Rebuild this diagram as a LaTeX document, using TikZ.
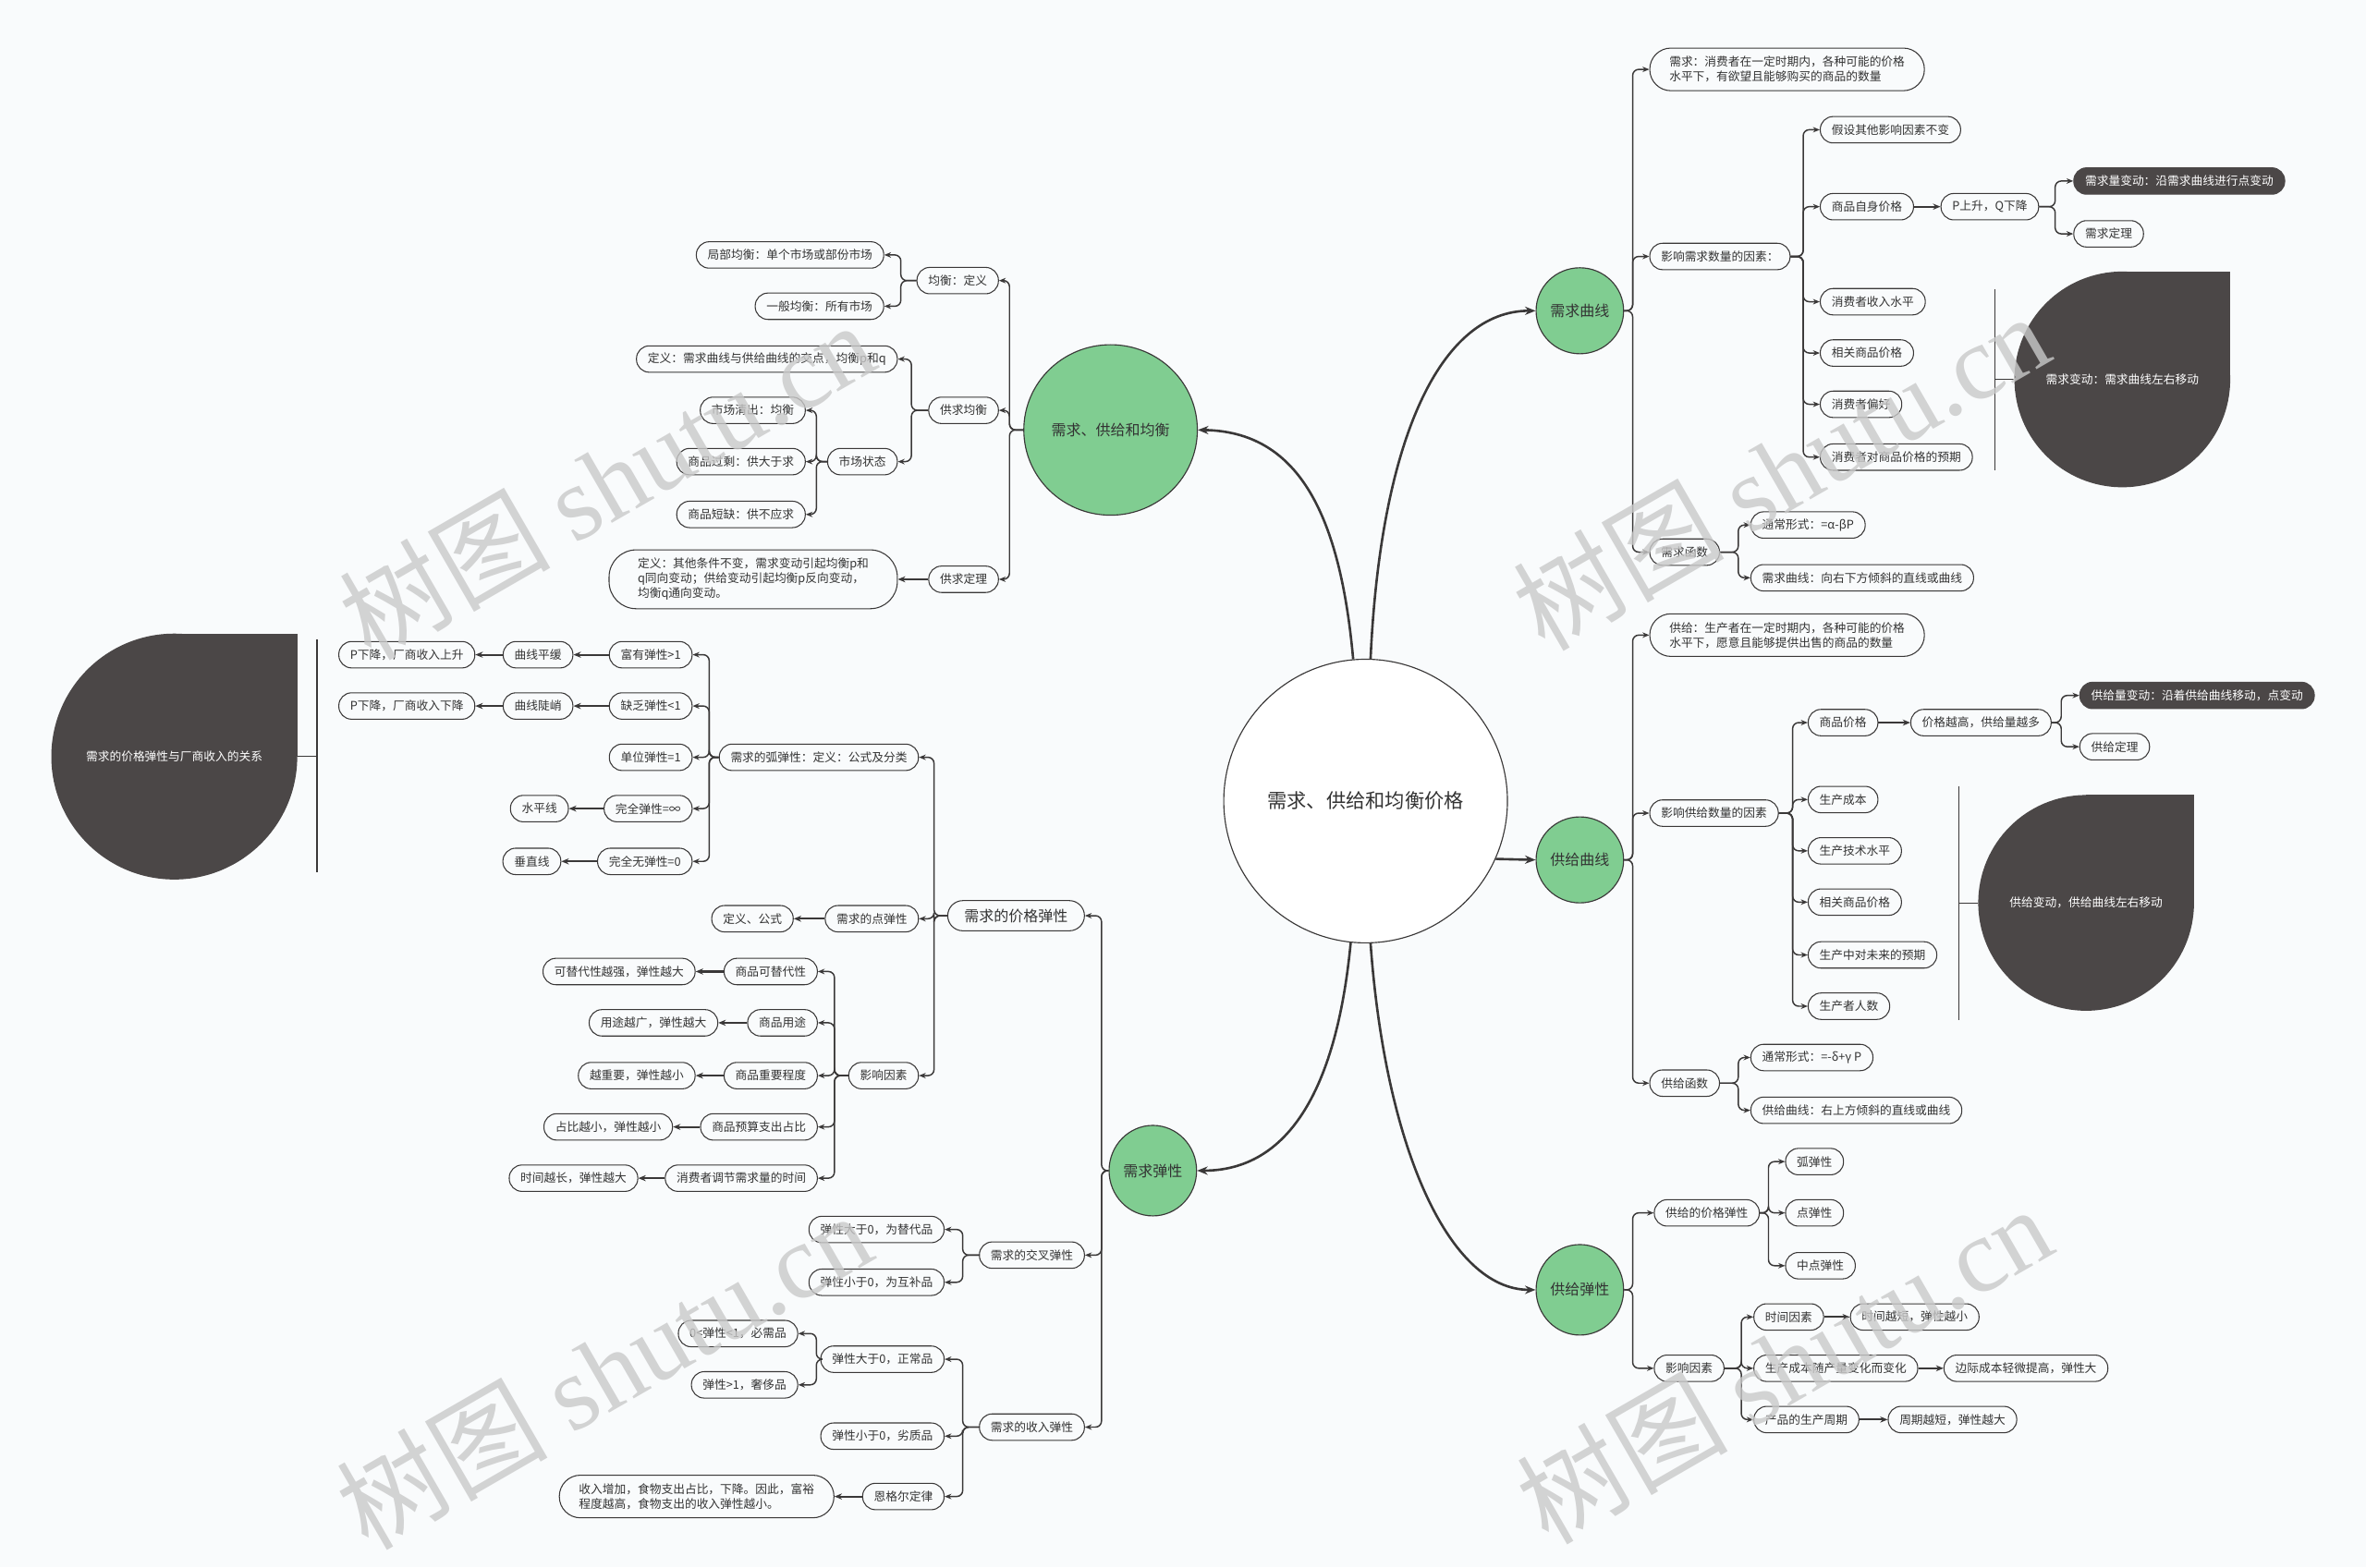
\documentclass[tikz,border=0pt]{standalone}
\usepackage{fontspec}
\setmainfont{Noto Sans CJK SC}
\newfontfamily\wmserif{Liberation Serif}
\usetikzlibrary{shapes.geometric,arrows.meta,calc}
\definecolor{bgc}{HTML}{F9FBFC}
\definecolor{linec}{HTML}{3A3838}
\definecolor{txt}{HTML}{333333}
\definecolor{greenc}{HTML}{80CD91}
\definecolor{darkc}{HTML}{4B4747}
\newcommand\fsA{\fontsize{7.8}{9.8}\selectfont}
\newcommand\fsB{\fontsize{9.8}{11}\selectfont}
\newcommand\fsC{\fontsize{13}{15}\selectfont}
\newcommand\conR[3][11]{\draw[conn] (#2.east) -| ($(#3.west)+(-#1,0)$) -- (#3.west);}
\newcommand\conL[3][11]{\draw[conn] (#2.west) -| ($(#3.east)+(#1,0)$) -- (#3.east);}
\begin{document}
\begin{tikzpicture}[x=1pt,y=-1pt,
 every node/.style={text=txt},
 box/.style={draw=linec,fill=bgc,line width=0.65pt,rounded corners=8.5pt,minimum height=17.5pt,inner xsep=7.5pt,inner ysep=0pt,font=\fsA},
 box2/.style={box,align=left,rounded corners=14pt,inner xsep=13pt,inner ysep=5.5pt},
 dbox/.style={box,fill=darkc,draw=darkc,text=white},
 bigbox/.style={box,font=\fsB,minimum height=20pt,rounded corners=10pt,inner xsep=11pt},
 topic/.style={ellipse,draw=linec,fill=greenc,line width=0.7pt,inner sep=0pt,font=\fsB},
 conn/.style={draw=linec,line width=0.9pt,rounded corners=4pt,-{Stealth[length=4.5pt,width=3.6pt]}},
 chain/.style={draw=linec,line width=1.3pt,-{Stealth[length=5pt,width=4pt]}},
 mainc/.style={draw=linec,line width=1.6pt,-{Stealth[length=7pt,width=5.5pt]}},
 sumline/.style={draw=linec,line width=0.8pt},
 tdtext/.style={circle,inner sep=0pt,text=white,font=\fsA},
 wm/.style={text=black!21,font=\fontsize{70}{70}\selectfont,opacity=0.8}
]
\fill[bgc] (0,0) rectangle (1568,1039);
\useasboundingbox (0,0) rectangle (1568,1039);

% ---------- centre and topics ----------
\node[circle,draw=linec,fill=white,line width=0.7pt,minimum size=188pt,inner sep=0pt,font=\fsC] (C) at (905,531) {需求、供给和均衡价格};
\node[topic,minimum width=58pt,minimum height=57pt] (D) at (1047,206) {需求曲线};
\node[topic,minimum width=58pt,minimum height=57pt] (SC) at (1047,570) {供给曲线};
\node[topic,minimum width=58pt,minimum height=60pt] (S) at (1047,855) {供给弹性};
\node[topic,minimum width=115pt,minimum height=113pt] (J) at (736,285) {需求、供给和均衡};
\node[topic,minimum width=58pt,minimum height=60pt] (K) at (764,776) {需求弹性};

\draw[mainc] (C.95.5) .. controls (888,340) and (860,286) .. (J.east);
\draw[mainc] (C.88) .. controls (915,290) and (955,206) .. (D.west);
\draw[mainc] (C.264.5) .. controls (886,720) and (855,776) .. (K.east);
\draw[mainc] (C.272) .. controls (918,760) and (960,855) .. (S.west);
\draw[mainc] (C.-24.6) -- (SC.west);

% ---------- demand curve ----------
\node[box2,anchor=west] (n1) at (1093,46) {需求：消费者在一定时期内，各种可能的价格\\水平下，有欲望且能够购买的商品的数量};
\node[box,anchor=west] (n2) at (1093,170) {影响需求数量的因素：};
\node[box,anchor=west] (n3) at (1093,366) {需求函数};
\node[box,anchor=west] (n21) at (1206,86) {假设其他影响因素不变};
\node[box,anchor=west] (n22) at (1206,137) {商品自身价格};
\node[box,anchor=west] (n23) at (1206,200) {消费者收入水平};
\node[box,anchor=west] (n24) at (1206,234) {相关商品价格};
\node[box,anchor=west] (n25) at (1206,268) {消费者偏好};
\node[box,anchor=west] (n26) at (1206,303) {消费者对商品价格的预期};
\node[box,anchor=west] (n221) at (1286,137) {P上升，Q下降};
\node[dbox,anchor=west] (n2211) at (1374,120) {需求量变动：沿需求曲线进行点变动};
\node[box,anchor=west] (n2212) at (1374,155) {需求定理};
\node[box,anchor=west] (n31) at (1160,348) {通常形式：=α-βP};
\node[box,anchor=west] (n32) at (1160,383) {需求曲线：向右下方倾斜的直线或曲线};
\conR{D}{n1}\conR{D}{n2}\conR{D}{n3}
\conR{n2}{n21}\conR{n2}{n22}\conR{n2}{n23}\conR{n2}{n24}\conR{n2}{n25}\conR{n2}{n26}
\draw[chain] (n22.east) -- (n221.west);
\conR[12]{n221}{n2211}\conR[12]{n221}{n2212}
\conR[8]{n3}{n31}\conR[8]{n3}{n32}
\fill[darkc] (1406.5,251.5) circle (71.5);
\fill[darkc] (1406.5,180) rectangle (1478,251.5);
\node[tdtext,minimum size=143pt] (td1) at (1406.5,251.5) {需求变动：需求曲线左右移动};
\coordinate (b1t) at (1322,192);
\coordinate (b1b) at (1322,312);
\draw[sumline] (b1t) -- (b1b);
\draw[sumline] (td1.west -| b1t) -- (td1.west);

% ---------- supply curve ----------
\node[box2,anchor=west] (s1) at (1093,421) {供给：生产者在一定时期内，各种可能的价格\\水平下，愿意且能够提供出售的商品的数量};
\node[box,anchor=west] (s2) at (1093,539) {影响供给数量的因素};
\node[box,anchor=west] (s3) at (1093,718) {供给函数};
\node[box,anchor=west] (s21) at (1198,479) {商品价格};
\node[box,anchor=west] (s22) at (1198,530) {生产成本};
\node[box,anchor=west] (s23) at (1198,564) {生产技术水平};
\node[box,anchor=west] (s24) at (1198,598) {相关商品价格};
\node[box,anchor=west] (s25) at (1198,633) {生产中对未来的预期};
\node[box,anchor=west] (s26) at (1198,667) {生产者人数};
\node[box,anchor=west] (s211) at (1266,479) {价格越高，供给量越多};
\node[dbox,anchor=west] (s2111) at (1378,461) {供给量变动：沿着供给曲线移动，点变动};
\node[box,anchor=west] (s2112) at (1378,495) {供给定理};
\node[box,anchor=west] (s31) at (1160,701) {通常形式：=-δ+γ P};
\node[box,anchor=west] (s32) at (1160,736) {供给曲线：右上方倾斜的直线或曲线};
\conR{SC}{s1}\conR{SC}{s2}\conR{SC}{s3}
\conR[10]{s2}{s21}\conR[10]{s2}{s22}\conR[10]{s2}{s23}\conR[10]{s2}{s24}\conR[10]{s2}{s25}\conR[10]{s2}{s26}
\draw[chain] (s21.east) -- (s211.west);
\conR[12]{s211}{s2111}\conR[12]{s211}{s2112}
\conR[8]{s3}{s31}\conR[8]{s3}{s32}
\fill[darkc] (1382.5,598.5) circle (71.5);
\fill[darkc] (1382.5,527) rectangle (1454,598.5);
\node[tdtext,minimum size=143pt] (td2) at (1382.5,598.5) {供给变动，供给曲线左右移动};
\coordinate (b2t) at (1298,521);
\coordinate (b2b) at (1298,676);
\draw[sumline] (b2t) -- (b2b);
\draw[sumline] (td2.west -| b2t) -- (td2.west);

% ---------- supply elasticity ----------
\node[box,anchor=west] (e1) at (1096,804) {供给的价格弹性};
\node[box,anchor=west] (e2) at (1096,907) {影响因素};
\node[box,anchor=west] (e11) at (1183,770) {弧弹性};
\node[box,anchor=west] (e12) at (1183,804) {点弹性};
\node[box,anchor=west] (e13) at (1183,839) {中点弹性};
\node[box,anchor=west] (e21) at (1162,873) {时间因素};
\node[box,anchor=west] (e22) at (1162,907) {生产成本随产量变化而变化};
\node[box,anchor=west] (e23) at (1162,941) {产品的生产周期};
\node[box,anchor=west] (e211) at (1226,873) {时间越短，弹性越小};
\node[box,anchor=west] (e221) at (1288,907) {边际成本轻微提高，弹性大};
\node[box,anchor=west] (e231) at (1251,941) {周期越短，弹性越大};
\conR[14]{S}{e1}\conR[14]{S}{e2}
\conR{e1}{e11}\conR{e1}{e12}\conR{e1}{e13}
\conR[8]{e2}{e21}\conR[8]{e2}{e22}\conR[8]{e2}{e23}
\draw[chain] (e21.east) -- (e211.west);
\draw[chain] (e22.east) -- (e221.west);
\draw[chain] (e23.east) -- (e231.west);

% ---------- equilibrium ----------
\node[box,anchor=east] (j1) at (662,186) {均衡：定义};
\node[box,anchor=east] (j2) at (662,272) {供求均衡};
\node[box,anchor=east] (j3) at (662,384) {供求定理};
\node[box,anchor=east] (j11) at (586,169) {局部均衡：单个市场或部份市场};
\node[box,anchor=east] (j12) at (586,203) {一般均衡：所有市场};
\node[box,anchor=east] (j21) at (595,238) {定义：需求曲线与供给曲线的交点，均衡p和q};
\node[box,anchor=east] (j22) at (595,306) {市场状态};
\node[box,anchor=east] (j221) at (534,272) {市场清出：均衡};
\node[box,anchor=east] (j222) at (534,306) {商品过剩：供大于求};
\node[box,anchor=east] (j223) at (534,341) {商品短缺：供不应求};
\node[box2,anchor=east,rounded corners=18pt,inner xsep=19pt] (j31) at (595,384) {定义：其他条件不变，需求变动引起均衡p和\\q同向变动；供给变动引起均衡p反向变动，\\均衡q通向变动。};
\conL[7]{J}{j1}\conL[7]{J}{j2}\conL[7]{J}{j3}
\conL{j1}{j11}\conL{j1}{j12}
\conL[9]{j2}{j21}\conL[9]{j2}{j22}
\conL[7]{j22}{j221}\conL[7]{j22}{j222}\conL[7]{j22}{j223}
\draw[chain] (j3.west) -- (j31.east);

% ---------- demand elasticity ----------
\node[bigbox,anchor=east] (k1) at (719,607) {需求的价格弹性};
\node[box,anchor=east] (k2) at (719,832) {需求的交叉弹性};
\node[box,anchor=east] (k3) at (719,946) {需求的收入弹性};
\node[box,anchor=east] (k11) at (609,502) {需求的弧弹性：定义：公式及分类};
\node[box,anchor=east] (k12) at (609,609) {需求的点弹性};
\node[box,anchor=east] (k13) at (609,713) {影响因素};
\node[box,anchor=east] (k111) at (459,434) {富有弹性>1};
\node[box,anchor=east] (k112) at (459,468) {缺乏弹性<1};
\node[box,anchor=east] (k113) at (459,502) {单位弹性=1};
\node[box,anchor=east] (k114) at (459,536) {完全弹性=∞};
\node[box,anchor=east] (k115) at (459,571) {完全无弹性=0};
\node[box,anchor=east] (k1111) at (380,434) {曲线平缓};
\node[box,anchor=east] (k1112) at (315,434) {P下降，厂商收入上升};
\node[box,anchor=east] (k1121) at (380,468) {曲线陡峭};
\node[box,anchor=east] (k1122) at (315,468) {P下降，厂商收入下降};
\node[box,anchor=east] (k1141) at (377,536) {水平线};
\node[box,anchor=east] (k1151) at (372,571) {垂直线};
\node[box,anchor=east] (k121) at (526,609) {定义、公式};
\node[box,anchor=east] (k131) at (542,644) {商品可替代性};
\node[box,anchor=east] (k132) at (542,678) {商品用途};
\node[box,anchor=east] (k133) at (542,713) {商品重要程度};
\node[box,anchor=east] (k134) at (542,747) {商品预算支出占比};
\node[box,anchor=east] (k135) at (542,781) {消费者调节需求量的时间};
\node[box,anchor=east] (k1311) at (461,644) {可替代性越强，弹性越大};
\node[box,anchor=east] (k1321) at (476,678) {用途越广，弹性越大};
\node[box,anchor=east] (k1331) at (461,713) {越重要，弹性越小};
\node[box,anchor=east] (k1341) at (446,747) {占比越小，弹性越小};
\node[box,anchor=east] (k1351) at (423,781) {时间越长，弹性越大};
\node[box,anchor=east] (k21) at (626,815) {弹性大于0，为替代品};
\node[box,anchor=east] (k22) at (626,850) {弹性小于0，为互补品};
\node[box,anchor=east] (k31) at (626,901) {弹性大于0，正常品};
\node[box,anchor=east] (k32) at (626,952) {弹性小于0，劣质品};
\node[box,anchor=east] (k33) at (626,992) {恩格尔定律};
\node[box,anchor=east] (k311) at (529,884) {0<弹性<1，必需品};
\node[box,anchor=east] (k312) at (529,918) {弹性>1，奢侈品};
\node[box2,anchor=east] (k331) at (553,992) {收入增加，食物支出占比，下降。因此，富裕\\程度越高，食物支出的收入弹性越小。};
\conL{K}{k1}\conL{K}{k2}\conL{K}{k3}
\conL[10]{k1}{k11}\conL[10]{k1}{k12}\conL[10]{k1}{k13}
\conL{k11}{k111}\conL{k11}{k112}\conL{k11}{k113}\conL{k11}{k114}\conL{k11}{k115}
\draw[chain] (k111.west) -- (k1111.east);
\draw[chain] (k1111.west) -- (k1112.east);
\draw[chain] (k112.west) -- (k1121.east);
\draw[chain] (k1121.west) -- (k1122.east);
\draw[chain] (k114.west) -- (k1141.east);
\draw[chain] (k115.west) -- (k1151.east);
\draw[chain] (k12.west) -- (k121.east);
\conL{k13}{k131}\conL{k13}{k132}\conL{k13}{k133}\conL{k13}{k134}\conL{k13}{k135}
\draw[chain] (k131.west) -- (k1311.east);
\draw[chain] (k132.west) -- (k1321.east);
\draw[chain] (k133.west) -- (k1331.east);
\draw[chain] (k134.west) -- (k1341.east);
\draw[chain] (k135.west) -- (k1351.east);
\conL[12]{k2}{k21}\conL[12]{k2}{k22}
\conL[12]{k3}{k31}\conL[12]{k3}{k32}\conL[12]{k3}{k33}
\conL[12]{k31}{k311}\conL[12]{k31}{k312}
\draw[chain] (k33.west) -- (k331.east);
\fill[darkc] (115.5,501.5) circle (81.5);
\fill[darkc] (115.5,420) rectangle (197,501.5);
\node[tdtext,minimum size=163pt] (td3) at (115.5,501.5) {需求的价格弹性与厂商收入的关系};
\coordinate (b3t) at (210,424);
\coordinate (b3b) at (210,578);
\draw[sumline] (b3t) -- (b3b);
\draw[sumline] (td3.east -| b3t) -- (td3.east);

% ---------- watermarks ----------
\node[wm,rotate=30] (wm1) at (402,318) {树图 {\wmserif shutu.cn}};
\node[wm,rotate=30] (wm2) at (1180,312) {树图 {\wmserif shutu.cn}};
\node[wm,rotate=30] (wm3) at (400,908) {树图 {\wmserif shutu.cn}};
\node[wm,rotate=30] (wm4) at (1182,904) {树图 {\wmserif shutu.cn}};
\end{tikzpicture}
\end{document}
